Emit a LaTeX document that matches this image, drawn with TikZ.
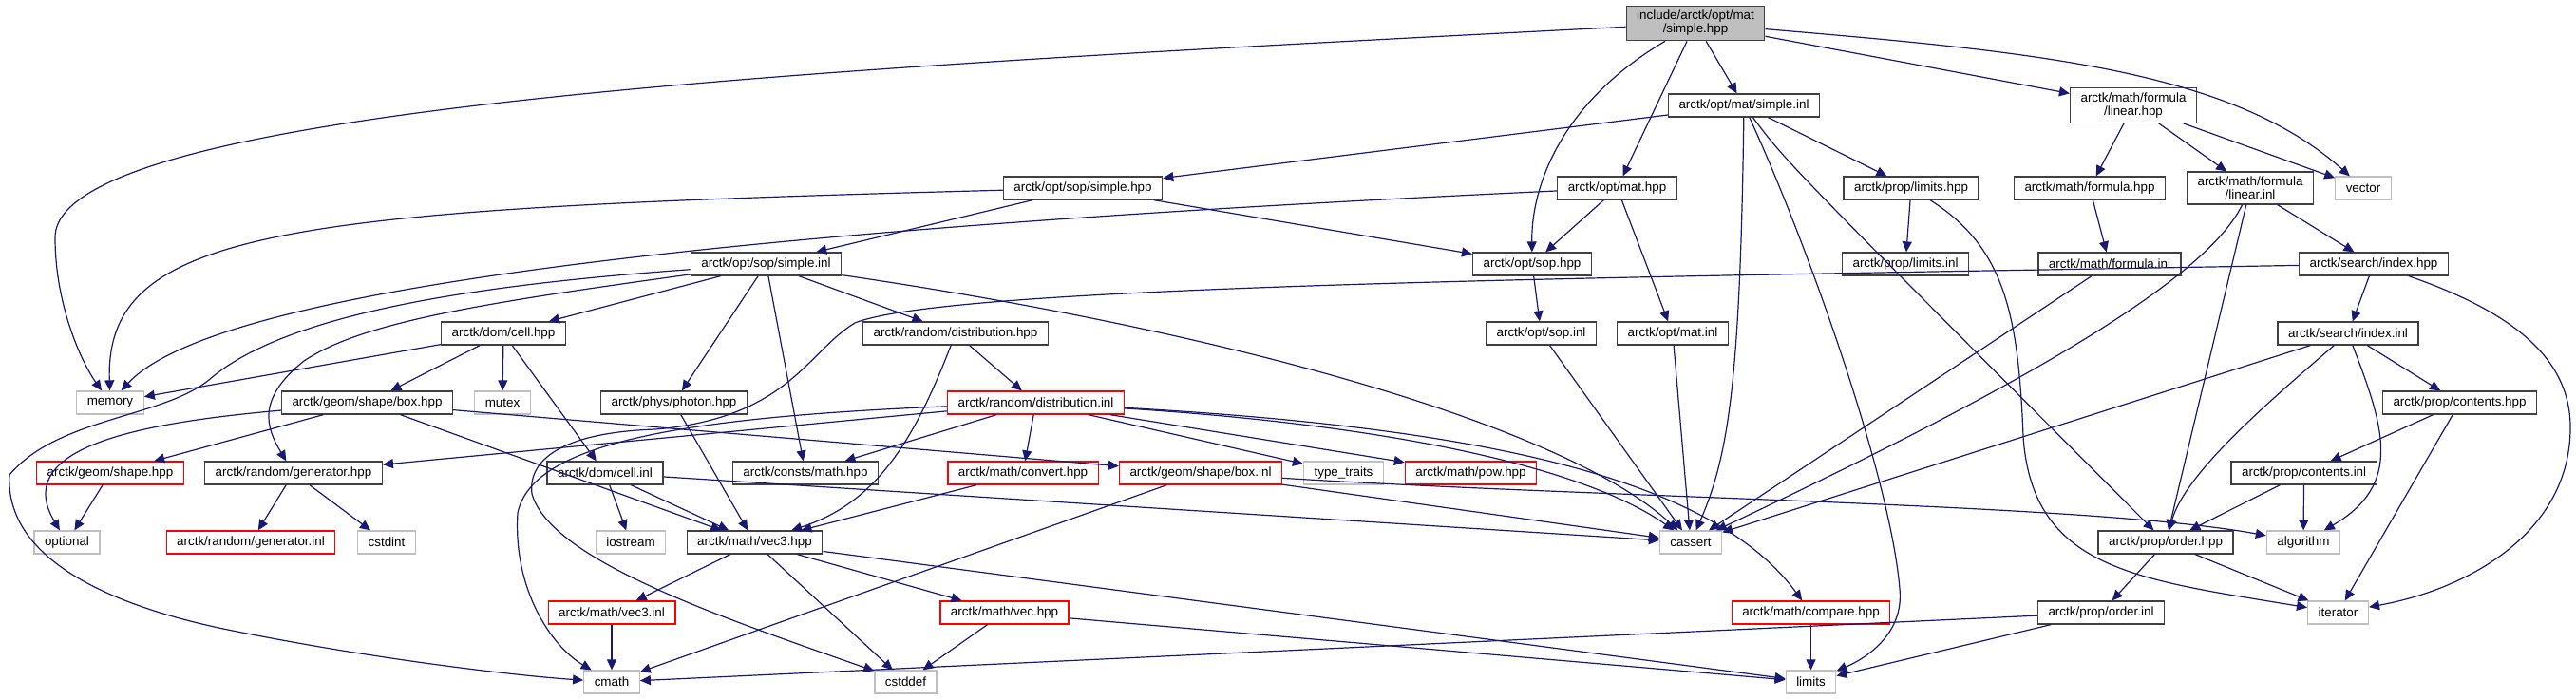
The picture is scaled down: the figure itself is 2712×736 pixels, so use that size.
\documentclass[tikz,border=0pt]{standalone}
\usepackage{fontspec}
\setmainfont{Liberation Sans}
\usetikzlibrary{arrows.meta}
\definecolor{edgeblue}{HTML}{191970}
\definecolor{sysgray}{HTML}{BFBFBF}

\begin{document}
\begin{tikzpicture}[x=0.5pt, y=-0.5pt, >={Triangle[length=5.5pt, width=5pt]},
  font=\fontsize{6.7}{7}\selectfont,
  hdr/.style={draw=black!75, line width=0.65pt, inner xsep=5.5pt, inner ysep=2.5pt, minimum height=12pt, align=center},
  syshdr/.style={hdr, draw=sysgray},
  trunchdr/.style={hdr, draw=red},
  roothdr/.style={hdr, fill=sysgray},
  dep/.style={->, draw=edgeblue, line width=0.6pt}]

\useasboundingbox (0,0) rectangle (2712,736);

% --- top ---
\node[roothdr] (root) at (1785,24.5) {include/arctk/opt/mat\\/simple.hpp};
\node[hdr] (simpleinl) at (1836,111) {arctk/opt/mat/simple.inl};
\node[hdr] (linhpp) at (2246,111) {arctk/math/formula\\/linear.hpp};

% --- row 3 ---
\node[hdr] (sopsimhpp) at (1140,198) {arctk/opt/sop/simple.hpp};
\node[hdr] (mathpp) at (1702.5,198) {arctk/opt/mat.hpp};
\node[hdr] (limhpp) at (2012,198) {arctk/prop/limits.hpp};
\node[hdr] (formhpp) at (2200,198) {arctk/math/formula.hpp};
\node[hdr] (lininl) at (2369,198) {arctk/math/formula\\/linear.inl};
\node[syshdr] (vector) at (2488,198) {vector};

% --- row 4 ---
\node[hdr] (sopsiminl) at (806.5,278) {arctk/opt/sop/simple.inl};
\node[hdr] (sophpp) at (1613,278) {arctk/opt/sop.hpp};
\node[hdr] (liminl) at (2006,278) {arctk/prop/limits.inl};
\node[hdr] (forminl) at (2221,278) {arctk/math/formula.inl};
\node[hdr] (idxhpp) at (2499,278) {arctk/search/index.hpp};

% --- row 5 ---
\node[hdr] (cellhpp) at (530,351) {arctk/dom/cell.hpp};
\node[hdr] (disthpp) at (1006,351) {arctk/random/distribution.hpp};
\node[hdr] (sopinl) at (1622.5,351) {arctk/opt/sop.inl};
\node[hdr] (matinl) at (1761,351) {arctk/opt/mat.inl};
\node[hdr] (idxinl) at (2472,351) {arctk/search/index.inl};

% --- row 6 ---
\node[syshdr] (memory) at (116,424) {memory};
\node[hdr] (boxhpp) at (386.5,424) {arctk/geom/shape/box.hpp};
\node[syshdr] (mutex) at (529,424) {mutex};
\node[hdr] (photon) at (709.5,424) {arctk/phys/photon.hpp};
\node[trunchdr] (distinl) at (1090.5,424) {arctk/random/distribution.inl};
\node[hdr] (conthpp) at (2589.5,424) {arctk/prop/contents.hpp};

% --- row 7 ---
\node[trunchdr] (shapehpp) at (116,498) {arctk/geom/shape.hpp};
\node[hdr] (genhpp) at (309,498) {arctk/random/generator.hpp};
\node[hdr] (cellinl) at (637,498) {arctk/dom/cell.inl};
\node[hdr] (consts) at (848,498) {arctk/consts/math.hpp};
\node[trunchdr] (convert) at (1077,498) {arctk/math/convert.hpp};
\node[trunchdr] (boxinl) at (1264,498) {arctk/geom/shape/box.inl};
\node[syshdr] (typetr) at (1414.5,498) {type\_traits};
\node[trunchdr] (pow) at (1548.5,498) {arctk/math/pow.hpp};
\node[hdr] (continl) at (2425.6,498) {arctk/prop/contents.inl};

% --- row 8 ---
\node[syshdr] (optional) at (70.5,571) {optional};
\node[trunchdr] (geninl) at (264,571) {arctk/random/generator.inl};
\node[syshdr] (cstdint) at (407,571) {cstdint};
\node[syshdr] (iostream) at (664,571) {iostream};
\node[hdr] (vec3hpp) at (794.5,571) {arctk/math/vec3.hpp};
\node[syshdr] (cassert) at (1780,571) {cassert};
\node[hdr] (ordhpp) at (2280,571) {arctk/prop/order.hpp};
\node[syshdr] (algorithm) at (2425,571) {algorithm};

% --- row 9 ---
\node[trunchdr] (vec3inl) at (644,645) {arctk/math/vec3.inl};
\node[trunchdr] (vechpp) at (1057.5,645) {arctk/math/vec.hpp};
\node[trunchdr] (compare) at (1906.5,645) {arctk/math/compare.hpp};
\node[hdr] (ordinl) at (2212,645) {arctk/prop/order.inl};
\node[syshdr] (iterator) at (2461.5,645) {iterator};

% --- bottom ---
\node[syshdr] (cmath) at (644,718) {cmath};
\node[syshdr] (cstddef) at (953.5,718) {cstddef};
\node[syshdr] (limits) at (1906.5,718) {limits};

% root
\draw[dep] (root) .. controls (900,70) and (58,110) .. (58,250) .. controls (58,320) and (85,380) .. (memory);
\draw[dep] (root) -- (simpleinl);
\draw[dep] (root) -- (mathpp);
\draw[dep] (root) .. controls (1640,110) and (1612,200) .. (sophpp);
\draw[dep] (root) -- (linhpp);
\draw[dep] (root) .. controls (2150,55) and (2350,75) .. (vector);

% opt/mat/simple.inl
\draw[dep] (simpleinl) -- (sopsimhpp);
\draw[dep] (simpleinl) -- (limhpp);
\draw[dep] (simpleinl) .. controls (1832,400) and (1820,480) .. (cassert);
\draw[dep] (simpleinl) .. controls (1900,250) and (1990,500) .. (2000,620) .. controls (2005,670) and (1960,695) .. (limits);
\draw[dep] (simpleinl) .. controls (1880,170) .. (ordhpp);

% opt/sop/simple.hpp, opt/mat.hpp
\draw[dep] (sopsimhpp) -- (sopsiminl);
\draw[dep] (sopsimhpp) -- (sophpp);
\draw[dep] (sopsimhpp) .. controls (300,220) and (110,240) .. (memory);
\draw[dep] (mathpp) -- (sophpp);
\draw[dep] (mathpp) -- (matinl);
\draw[dep] (mathpp) .. controls (800,240) and (230,300) .. (memory);
\draw[dep] (sophpp) -- (sopinl);
\draw[dep] (sopinl) -- (cassert);
\draw[dep] (matinl) -- (cassert);
\draw[dep] (limhpp) -- (liminl);
\draw[dep] (limhpp) .. controls (2110,260) and (2125,330) .. (2130,460) .. controls (2140,600) and (2250,610) .. (iterator);

% formula
\draw[dep] (linhpp) -- (formhpp);
\draw[dep] (linhpp) -- (lininl);
\draw[dep] (linhpp) -- (vector);
\draw[dep] (formhpp) -- (forminl);
\draw[dep] (forminl) -- (cassert);
\draw[dep] (lininl) -- (idxhpp);
\draw[dep] (lininl) -- (ordhpp);
\draw[dep] (lininl) .. controls (2320,300) and (2100,420) .. (cassert);

% search
\draw[dep] (idxhpp) -- (idxinl);
\draw[dep] (idxhpp) .. controls (2650,330) and (2706,380) .. (2706,450) .. controls (2706,560) and (2600,620) .. (iterator);
\draw[dep] (idxhpp) .. controls (1700,292) and (1000,300) .. (900,340) .. controls (850,370) and (830,440) .. (690,452) .. controls (600,455) and (555,480) .. (560,520) .. controls (580,590) and (760,650) .. (cstddef);
\draw[dep] (idxinl) -- (cassert);
\draw[dep] (idxinl) .. controls (2380,430) and (2300,500) .. (ordhpp);
\draw[dep] (idxinl) .. controls (2510,450) and (2530,510) .. (algorithm);
\draw[dep] (idxinl) -- (conthpp);
\draw[dep] (conthpp) -- (continl);
\draw[dep] (conthpp) -- (iterator);
\draw[dep] (continl) -- (ordhpp);
\draw[dep] (continl) -- (algorithm);
\draw[dep] (ordhpp) -- (ordinl);
\draw[dep] (ordhpp) -- (iterator);
\draw[dep] (ordinl) -- (cmath);
\draw[dep] (ordinl) -- (limits);

% opt/sop/simple.inl
\draw[dep] (sopsiminl) -- (cellhpp);
\draw[dep] (sopsiminl) .. controls (500,300) and (300,330) .. (220,400) .. controls (170,440) and (60,440) .. (10,500) .. controls (5,590) and (120,640) .. (250,665) .. controls (400,695) and (550,712) .. (cmath);
\draw[dep] (sopsiminl) .. controls (500,320) and (380,340) .. (320,380) .. controls (270,420) and (280,450) .. (genhpp);
\draw[dep] (sopsiminl) -- (photon);
\draw[dep] (sopsiminl) -- (consts);
\draw[dep] (sopsiminl) -- (disthpp);
\draw[dep] (sopsiminl) .. controls (1300,350) and (1650,450) .. (cassert);

% dom
\draw[dep] (cellhpp) -- (memory);
\draw[dep] (cellhpp) -- (boxhpp);
\draw[dep] (cellhpp) -- (mutex);
\draw[dep] (cellhpp) -- (cellinl);
\draw[dep] (cellinl) -- (iostream);
\draw[dep] (cellinl) -- (vec3hpp);
\draw[dep] (cellinl) -- (cassert);

% geom
\draw[dep] (boxhpp) .. controls (150,445) and (10,470) .. (optional);
\draw[dep] (boxhpp) -- (shapehpp);
\draw[dep] (boxhpp) -- (vec3hpp);
\draw[dep] (boxhpp) -- (boxinl);
\draw[dep] (shapehpp) -- (optional);
\draw[dep] (boxinl) -- (cmath);
\draw[dep] (boxinl) -- (cassert);
\draw[dep] (boxinl) .. controls (1700,525) and (2200,530) .. (algorithm);

% random
\draw[dep] (disthpp) -- (distinl);
\draw[dep] (disthpp) .. controls (960,470) and (920,530) .. (vec3hpp);
\draw[dep] (distinl) -- (genhpp);
\draw[dep] (distinl) .. controls (700,440) and (560,470) .. (545,540) .. controls (540,620) and (580,680) .. (cmath);
\draw[dep] (distinl) -- (consts);
\draw[dep] (distinl) -- (convert);
\draw[dep] (distinl) -- (typetr);
\draw[dep] (distinl) -- (pow);
\draw[dep] (distinl) .. controls (1500,450) and (1680,500) .. (cassert);
\draw[dep] (distinl) .. controls (1550,450) and (1800,500) .. (compare);
\draw[dep] (genhpp) -- (geninl);
\draw[dep] (genhpp) -- (cstdint);

% math
\draw[dep] (photon) -- (vec3hpp);
\draw[dep] (convert) -- (vec3hpp);
\draw[dep] (vec3hpp) -- (vec3inl);
\draw[dep] (vec3hpp) -- (cstddef);
\draw[dep] (vec3hpp) -- (vechpp);
\draw[dep] (vec3hpp) -- (limits);
\draw[dep] (vec3inl) -- (cmath);
\draw[dep] (vechpp) -- (cstddef);
\draw[dep] (vechpp) -- (limits);
\draw[dep] (compare) -- (limits);

\end{tikzpicture}
\end{document}
